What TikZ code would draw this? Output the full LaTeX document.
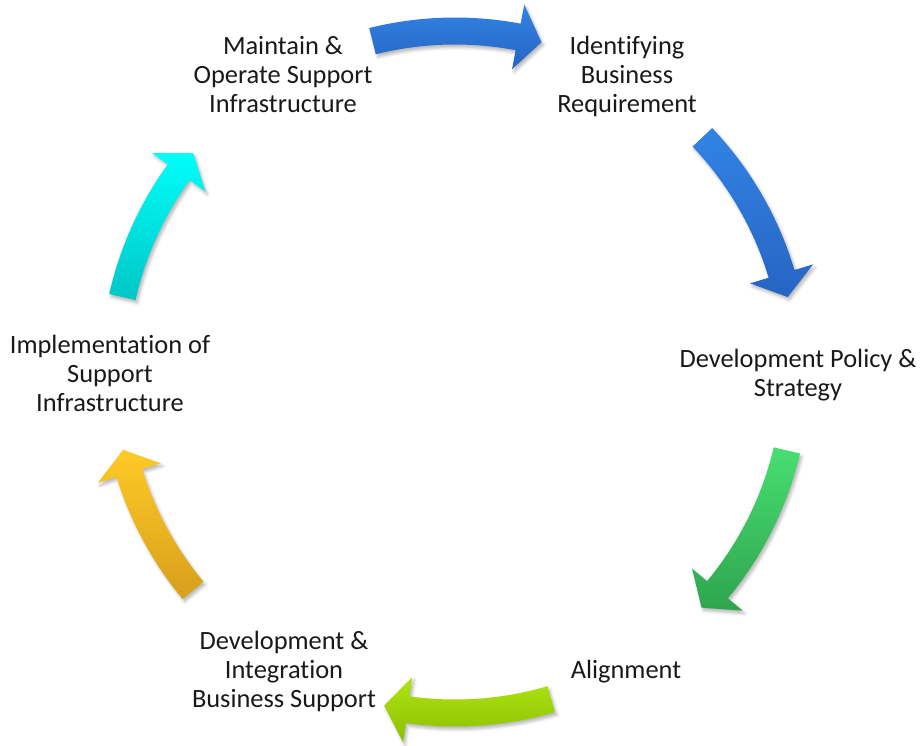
\documentclass[tikz,border=0pt]{standalone}
\usepackage{fontspec}
\setmainfont[Ligatures=NoCommon]{Carlito}
\usetikzlibrary{shadows.blur}

% arc geometry of the cycle (pt)
\def\Rc{341}   % centre line of the arrows
\def\Ro{354.5} % outer shaft edge
\def\Ri{327.5} % inner shaft edge
\def\Rh{374}   % outer barb
\def\Rl{308}   % inner barb
\def\headang{4.03} % angular length of each arrow head

\tikzset{
  lbl/.style={font=\fontsize{26.4}{29}\selectfont, align=center, anchor=base,
    inner sep=0pt, text=black!90},
  cyc/.style={blur shadow={shadow xshift=2pt, shadow yshift=-3pt,
    shadow blur radius=3pt, shadow opacity=28}},
}

% clockwise curved arrow: tail angle, tip angle, top colour, bottom colour
\newcommand{\cycarrow}[4]{%
  \pgfmathsetmacro\hb{#2+\headang}%
  \path[cyc, top color=#3, bottom color=#4]
    (#1:\Ro pt) arc[start angle=#1, end angle=\hb, radius=\Ro pt]
    -- (\hb:\Rh pt) -- (#2:\Rc pt) -- (\hb:\Rl pt) -- (\hb:\Ri pt)
    arc[start angle=\hb, end angle=#1, radius=\Ri pt] -- cycle;
}

\definecolor{blueA}{HTML}{3184E4}
\definecolor{blueB}{HTML}{2764C2}
\definecolor{greenA}{HTML}{48DE72}
\definecolor{greenB}{HTML}{2FA44E}
\definecolor{limeA}{HTML}{B0E414}
\definecolor{limeB}{HTML}{8CBF00}
\definecolor{goldA}{HTML}{FFCA26}
\definecolor{goldB}{HTML}{D79F1C}
\definecolor{cyanA}{HTML}{00FFFA}
\definecolor{cyanB}{HTML}{00C6C6}

\begin{document}
\begin{tikzpicture}
\useasboundingbox (0pt,0pt) rectangle (923pt,-745pt);

% curved arrows around the cycle
\begin{scope}[shift={(455pt,-372pt)}]
  \cycarrow{104}{75.3}{blueA}{blueB}
  \cycarrow{43.5}{12.7}{blueA}{blueB}
  \cycarrow{-13.3}{-43.7}{greenA}{greenB}
  \cycarrow{-73.6}{-102}{limeA}{limeB}
  \cycarrow{219.8}{193.2}{goldA}{goldB}
  \cycarrow{167.3}{140.1}{cyanA}{cyanB}
\end{scope}

% stage labels (anchored at the baseline of their last line)
\node[lbl] (ident) at (627pt,-112pt) {Identifying\\Business\\Requirement};
\node[lbl] (policy) at (798pt,-396pt) {Development Policy \&\\Strategy};
\node[lbl] (align) at (626pt,-678pt) {Alignment};
\node[lbl] (integ) at (284pt,-707pt) {Development \&\\Integration\\Business Support};
\node[lbl] (impl) at (110pt,-411pt) {Implementation of\\Support\\Infrastructure};
\node[lbl] (maint) at (283pt,-112pt) {Maintain \&\\Operate Support\\Infrastructure};
\end{tikzpicture}
\end{document}
